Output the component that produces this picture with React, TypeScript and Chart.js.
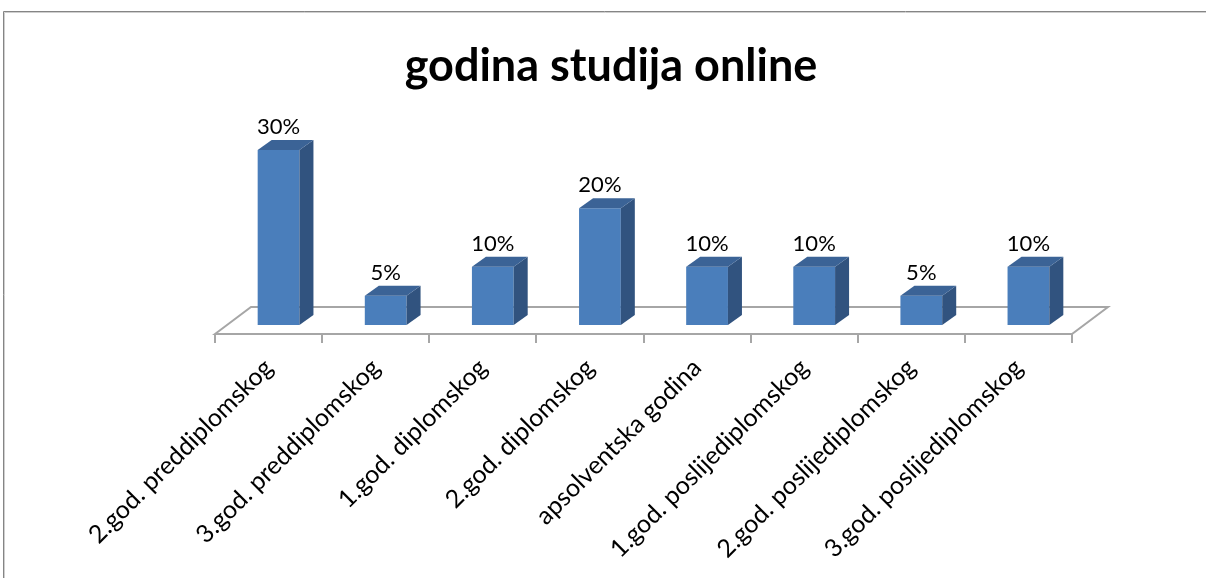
import React, { useEffect, useRef } from 'react';
import { Chart, registerables } from 'chart.js';

Chart.register(...registerables);

const chartTitle = 'godina studija online';
const categories = [
  '2.god. preddiplomskog',
  '3.god. preddiplomskog',
  '1.god. diplomskog',
  '2.god. diplomskog',
  'apsolventska godina',
  '1.god. poslijediplomskog',
  '2.god. poslijediplomskog',
  '3.god. poslijediplomskog',
];
const values = [30, 5, 10, 20, 10, 10, 5, 10];

const W = 1206;
const H = 578;
const SHIFT = 10; // front faces sit right of category centre (3D depth)
const DX = 14;
const DY = 10;

const depthPlugin = {
  id: 'depth3d',
  beforeDraw(chart: any) {
    const { ctx } = chart;
    ctx.save();
    ctx.lineWidth = 1;
    ctx.strokeStyle = '#858585';
    ctx.beginPath();
    ctx.moveTo(3.5, H);
    ctx.lineTo(3.5, 11.5);
    ctx.lineTo(W, 11.5);
    ctx.stroke();
    ctx.strokeStyle = '#cfcfcf';
    ctx.beginPath();
    ctx.moveTo(4.5, H);
    ctx.lineTo(4.5, 12.5);
    ctx.lineTo(W, 12.5);
    ctx.stroke();
    ctx.fillStyle = '#000';
    ctx.font = 'bold 45px Lato';
    ctx.textAlign = 'center';
    ctx.textBaseline = 'middle';
    ctx.fillText(chartTitle, 611, 66);
    ctx.restore();
  },
  beforeDatasetsDraw(chart: any) {
    const { ctx, chartArea, scales } = chart;
    const base = scales.y.getPixelForValue(0);
    const left = chartArea.left - SHIFT;
    const right = chartArea.right - SHIFT;
    const front = base + 9;
    const back = base - 18;
    const bdx = 36;
    ctx.save();
    ctx.strokeStyle = '#a6a6a6';
    ctx.lineWidth = 2;
    ctx.beginPath();
    ctx.moveTo(left, front);
    ctx.lineTo(left + bdx, back);
    ctx.lineTo(right + bdx, back);
    ctx.lineTo(right, front);
    ctx.closePath();
    ctx.stroke();
    const n = categories.length;
    for (let i = 0; i <= n; i++) {
      const xx = Math.round(left + (i * (right - left)) / n);
      ctx.beginPath();
      ctx.moveTo(xx, front);
      ctx.lineTo(xx, front + 9);
      ctx.stroke();
    }
    ctx.restore();
  },
  afterDatasetsDraw(chart: any) {
    const { ctx } = chart;
    const meta = chart.getDatasetMeta(0);
    ctx.save();
    meta.data.forEach((bar: any, i: number) => {
      const { x, y, base, width } = bar.getProps(['x', 'y', 'base', 'width'], true);
      const l = x - width / 2;
      const r = x + width / 2;
      // side face
      ctx.fillStyle = '#31537f';
      ctx.beginPath();
      ctx.moveTo(r, y);
      ctx.lineTo(r + DX, y - DY);
      ctx.lineTo(r + DX, base - DY);
      ctx.lineTo(r, base);
      ctx.closePath();
      ctx.fill();
      // top face
      ctx.fillStyle = '#3b6396';
      ctx.beginPath();
      ctx.moveTo(l, y);
      ctx.lineTo(l + DX, y - DY);
      ctx.lineTo(r + DX, y - DY);
      ctx.lineTo(r, y);
      ctx.closePath();
      ctx.fill();
      // value label
      ctx.fillStyle = '#000';
      ctx.font = '22px Lato';
      ctx.textAlign = 'center';
      ctx.textBaseline = 'alphabetic';
      ctx.fillText(values[i] + '%', x, y - 16);
    });
    ctx.restore();
  },
};

export default function App() {
  const ref = useRef<HTMLCanvasElement | null>(null);
  useEffect(() => {
    if (!ref.current) return;
    const chart = new Chart(ref.current, {
      type: 'bar',
      data: {
        labels: categories,
        datasets: [
          {
            data: values,
            backgroundColor: '#4a7ebb',
            borderWidth: 0,
            categoryPercentage: 1,
            barPercentage: 0.39,
          },
        ],
      },
      options: {
        responsive: false,
        animation: false,
        layout: { padding: { left: 225, right: 124, top: 150, bottom: 0 } },
        plugins: {
          legend: { display: false },
          tooltip: { enabled: false },
          title: { display: false },
        },
        scales: {
          x: {
            grid: { display: false, drawTicks: false },
            border: { display: false },
            ticks: {
              minRotation: 45,
              maxRotation: 45,
              autoSkip: false,
              padding: 28,
              labelOffset: -SHIFT,
              color: '#000',
              font: { family: 'Lato', size: 25 },
            },
            afterFit: (scale: any) => {
              scale.height = H - 325;
            },
          },
          y: { display: false, min: 0, max: 30 },
        },
      },
      plugins: [depthPlugin],
    });
    return () => chart.destroy();
  }, []);
  return (
    <div style={{ position: 'fixed', left: 0, top: 0, width: W, height: H, background: '#fff' }}>
      <canvas ref={ref} width={W} height={H} style={{ display: 'block' }} />
    </div>
  );
}
